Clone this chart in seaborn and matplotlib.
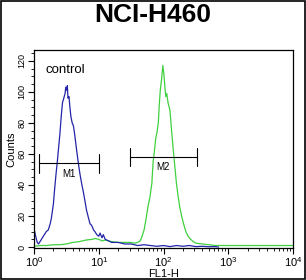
import numpy as np
import pandas as pd
import matplotlib
matplotlib.use("Agg")
import matplotlib.pyplot as plt
import seaborn as sns
from matplotlib.ticker import FixedLocator, NullFormatter

sns.set_style("white")
plt.rcParams['font.family'] = ['Liberation Sans', 'DejaVu Sans']
plt.rcParams['mathtext.fontset'] = 'custom'
plt.rcParams['mathtext.rm'] = 'Liberation Sans'
for k in ['text.color', 'axes.labelcolor', 'xtick.color', 'ytick.color']:
    plt.rcParams[k] = 'black'

title = "NCI-H460"
x_label = "FL1-H"
y_label = "Counts"
legend_text = "control"

# control (blue) histogram: log10(FL1-H) and counts
control_log = [0.00, 0.02, 0.05, 0.07, 0.10, 0.13, 0.16, 0.19, 0.22, 0.25, 0.27, 0.30,
               0.32, 0.34, 0.36, 0.38, 0.40, 0.42, 0.44, 0.46, 0.48, 0.49, 0.505, 0.515,
               0.525, 0.54, 0.555, 0.57, 0.59, 0.61, 0.63, 0.66, 0.685, 0.71, 0.74, 0.76,
               0.79, 0.81, 0.84, 0.865, 0.89, 0.92, 0.94, 0.97, 1.00, 1.02, 1.05, 1.07,
               1.10, 1.15, 1.20, 1.30, 1.40, 1.50, 1.60, 1.70, 1.80, 1.90, 2.00, 2.10,
               2.20, 2.30, 2.40, 2.50, 2.60, 2.70, 2.80, 2.85]
control_counts = [12, 8, 3, 2, 4, 6, 8, 10, 11, 15, 19, 28,
                  38, 47, 55, 64, 73, 84, 93, 96, 99, 103, 101, 104,
                  96, 97, 90, 84, 80, 78, 72, 62, 54, 47, 40, 36,
                  29, 24, 19, 15, 14, 11, 10, 8, 7, 9, 6, 8,
                  5, 4, 3, 3, 2, 2, 1, 1.5, 1, 0.5, 1, 0.3,
                  1, 0.5, 1, 0.3, 0.5, 0.2, 0.3, 0]

# antibody (green) histogram
sample_log = [0.00, 0.10, 0.20, 0.30, 0.40, 0.50, 0.60, 0.70, 0.80, 0.90, 0.95, 1.00,
              1.05, 1.10, 1.20, 1.30, 1.40, 1.50, 1.55, 1.60, 1.64, 1.67, 1.70, 1.73,
              1.76, 1.79, 1.82, 1.84, 1.86, 1.88, 1.90, 1.92, 1.935, 1.95, 1.97, 1.99,
              2.005, 2.02, 2.035, 2.05, 2.07, 2.10, 2.125, 2.15, 2.175, 2.20, 2.225, 2.25,
              2.28, 2.31, 2.345, 2.38, 2.42, 2.46, 2.50, 2.60, 2.70, 2.80, 3.00, 3.20,
              3.40, 3.60, 3.80, 4.00]
sample_counts = [0.5, 1, 1, 1.5, 1.5, 2, 3, 3.5, 4.5, 5, 5.5, 5,
                 4, 4.5, 3.5, 3, 3, 3, 2.5, 3, 4, 7, 11, 18,
                 26, 32, 41, 55, 62, 70, 74, 80, 92, 101, 108, 117,
                 112, 104, 97, 99, 93, 88, 75, 63, 52, 41, 33, 26,
                 20, 15, 10, 7, 5, 3.5, 2.5, 2, 1.5, 1, 1, 1,
                 1, 1, 1, 1]

# markers: name, left, right, level
marker_names = ["M1", "M2"]
marker_left = [1.19, 30]
marker_right = [10, 330]
marker_level = [54, 58]

blue = "#2424a8"
green = "#3fd03f"

fig = plt.figure(figsize=(3.06, 2.80), dpi=100)
ax = fig.add_axes([34/306, 32/280, 259/306, 198/280])

df_c = pd.DataFrame({"x": 10 ** np.array(control_log), "y": control_counts})
df_s = pd.DataFrame({"x": 10 ** np.array(sample_log), "y": sample_counts})
sns.lineplot(data=df_s, x="x", y="y", ax=ax, color=green, lw=0.9, sort=False)
sns.lineplot(data=df_c, x="x", y="y", ax=ax, color=blue, lw=0.9, sort=False)

ax.set_xscale("log")
ax.set_xlim(1, 1e4)
ax.set_ylim(-0.6, 127)

for name, l, r, lev in zip(marker_names, marker_left, marker_right, marker_level):
    ax.plot([l, r], [lev, lev], color="black", lw=0.8)
    ax.plot([l, l], [lev - 6, lev + 6], color="black", lw=0.8)
    ax.plot([r, r], [lev - 6, lev + 6], color="black", lw=0.8)
    ax.text(np.sqrt(l * r), lev - 3.5, name, ha="center", va="top", fontsize=7)

ax.text(1.48, 114, legend_text, fontsize=9.5, va="center", ha="left")

ax.set_xticks([1, 10, 100, 1000, 10000])
ax.set_xticklabels([r"$10^0$", r"$10^1$", r"$10^2$", r"$10^3$", r"$10^4$"], fontsize=8)
ax.xaxis.set_minor_locator(FixedLocator([m * d for d in [1, 10, 100, 1000] for m in range(2, 10)]))
ax.xaxis.set_minor_formatter(NullFormatter())
ax.set_yticks([0, 20, 40, 60, 80, 100, 120])
ax.set_yticklabels(["0", "20", "40", "60", "80", "100", "120"], fontsize=6.5, rotation=90, va="center")
ax.yaxis.set_minor_locator(FixedLocator(list(range(5, 126, 5))))
ax.tick_params(axis="both", which="major", direction="out", length=4, width=0.8, color="black", pad=1.5,
               bottom=True, left=True)
ax.tick_params(axis="both", which="minor", direction="out", length=2, width=0.6, color="black",
               bottom=True, left=True)
ax.set_xlabel(x_label, fontsize=8, labelpad=0)
ax.set_ylabel(y_label, fontsize=8, labelpad=1)
for s in ax.spines.values():
    s.set_color("black")
    s.set_linewidth(0.9)

fig.text(0.5, 1 - 15/280, title, ha="center", va="center", fontsize=19, fontweight="bold", color="black")
fig.add_artist(plt.Rectangle((0.002, 0.002), 0.996, 0.996, transform=fig.transFigure,
                             fill=False, edgecolor="black", lw=1.2))

fig.savefig("out.png", dpi=100)
